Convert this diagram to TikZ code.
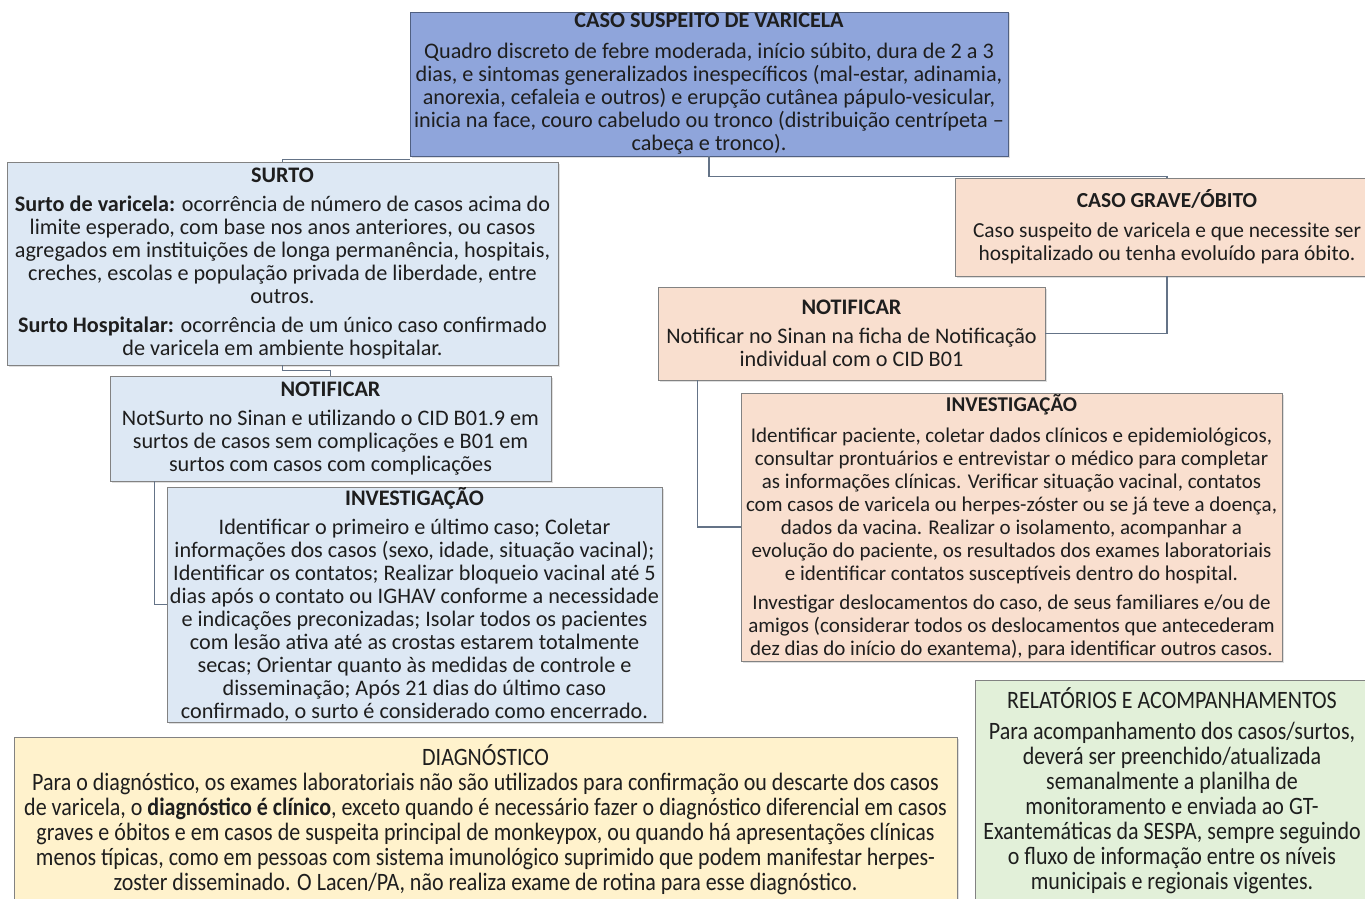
\documentclass[tikz,border=0pt]{standalone}
\usepackage{fontspec}
\setmainfont{Carlito}
\newfontfamily\condfont[FakeStretch=0.88]{Carlito}
\usetikzlibrary{shadows}
\definecolor{topfill}{RGB}{143,165,219}
\definecolor{topline}{RGB}{80,96,130}
\definecolor{bluefill}{RGB}{221,232,244}
\definecolor{peachfill}{RGB}{249,223,207}
\definecolor{yellowfill}{RGB}{255,242,204}
\definecolor{greenfill}{RGB}{226,240,217}
\definecolor{boxline}{RGB}{130,130,130}
\definecolor{connline}{RGB}{100,115,135}
\definecolor{txt}{RGB}{30,30,30}
\newcommand\bodyfont{\fontsize{22.2}{23}\selectfont}
\newcommand\smallbody{\fontsize{21}{23}\selectfont}
\newcommand\condbody{\condfont\fontsize{25}{25}\selectfont}
\tikzset{
  box/.style={draw=boxline, line width=0.9pt, align=center, inner sep=0pt,
    text=txt, font=\bodyfont,
    drop shadow={shadow xshift=1.5pt, shadow yshift=-1.5pt, opacity=0.25}},
  topbox/.style={box, fill=topfill, draw=topline},
  bluebox/.style={box, fill=bluefill},
  peachbox/.style={box, fill=peachfill},
  yellowbox/.style={box, fill=yellowfill, font=\condbody},
  greenbox/.style={box, fill=greenfill, font=\condbody},
  conn/.style={draw=connline, line width=1.3pt}
}
\begin{document}
\begin{tikzpicture}[x=1pt,y=-1pt]
\useasboundingbox (0,0) rectangle (1365,899);
\fill[white] (0,0) rectangle (1365,899);
\begin{scope}
\clip (0,0) rectangle (1365,899);

\node[topbox, minimum width=598, minimum height=144] (top) at (709,84)
  {\textbf{CASO SUSPEITO DE VARICELA}\\[8pt]
   Quadro discreto de febre moderada, início súbito, dura de 2 a 3\\
   dias, e sintomas generalizados inespecíficos (mal-estar, adinamia,\\
   anorexia, cefaleia e outros) e erupção cutânea pápulo-vesicular,\\
   inicia na face, couro cabeludo ou tronco (distribuição centrípeta –\\
   cabeça e tronco).};

\node[bluebox, minimum width=551, minimum height=203] (surto) at (282.5,263.5)
  {\textbf{SURTO}\\[6pt]
   \textbf{Surto de varicela:} ocorrência de número de casos acima do\\
   limite esperado, com base nos anos anteriores, ou casos\\
   agregados em instituições de longa permanência, hospitais,\\
   creches, escolas e população privada de liberdade, entre\\
   outros.\\[6pt]
   \textbf{Surto Hospitalar:} ocorrência de um único caso confirmado\\
   de varicela em ambiente hospitalar.};

\node[bluebox, minimum width=441, minimum height=105] (notl) at (330.5,428.5)
  {\textbf{NOTIFICAR}\\[6pt]
   NotSurto no Sinan e utilizando o CID B01.9 em\\
   surtos de casos sem complicações e B01 em\\
   surtos com casos com complicações};

\node[bluebox, minimum width=495, minimum height=235] (invl) at (414.5,604.5)
  {\textbf{INVESTIGAÇÃO}\\[6pt]
   Identificar o primeiro e último caso; Coletar\\
   informações dos casos (sexo, idade, situação vacinal);\\
   Identificar os contatos; Realizar bloqueio vacinal até 5\\
   dias após o contato ou IGHAV conforme a necessidade\\
   e indicações preconizadas; Isolar todos os pacientes\\
   com lesão ativa até as crostas estarem totalmente\\
   secas; Orientar quanto às medidas de controle e\\
   disseminação; Após 21 dias do último caso\\
   confirmado, o surto é considerado como encerrado.};

\node[peachbox, minimum width=424, minimum height=98, font=\fontsize{21.4}{23}\selectfont] (grave) at (1167,227)
  {\textbf{CASO GRAVE/ÓBITO}\\[7pt]
   Caso suspeito de varicela e que necessite ser\\
   hospitalizado ou tenha evoluído para óbito.};

\node[peachbox, minimum width=387, minimum height=93] (notr) at (851.5,333.5)
  {\textbf{NOTIFICAR}\\[6pt]
   Notificar no Sinan na ficha de Notificação\\
   individual com o CID B01};

\node[peachbox, minimum width=541, minimum height=268, font=\smallbody] (invr) at (1011.5,527)
  {\textbf{INVESTIGAÇÃO}\\[8pt]
   Identificar paciente, coletar dados clínicos e epidemiológicos,\\
   consultar prontuários e entrevistar o médico para completar\\
   as informações clínicas. Verificar situação vacinal, contatos\\
   com casos de varicela ou herpes-zóster ou se já teve a doença,\\
   dados da vacina. Realizar o isolamento, acompanhar a\\
   evolução do paciente, os resultados dos exames laboratoriais\\
   e identificar contatos susceptíveis dentro do hospital.\\[6pt]
   Investigar deslocamentos do caso, de seus familiares e/ou de\\
   amigos (considerar todos os deslocamentos que antecederam\\
   dez dias do início do exantema), para identificar outros casos.};

\node[yellowbox, minimum width=943, minimum height=165] (diag) at (485.5,819.5)
  {DIAGNÓSTICO\\
   Para o diagnóstico, os exames laboratoriais não são utilizados para confirmação ou descarte dos casos\\
   de varicela, o \textbf{diagnóstico é clínico}, exceto quando é necessário fazer o diagnóstico diferencial em casos\\
   graves e óbitos e em casos de suspeita principal de monkeypox, ou quando há apresentações clínicas\\
   menos típicas, como em pessoas com sistema imunológico suprimido que podem manifestar herpes-\\
   zoster disseminado. O Lacen/PA, não realiza exame de rotina para esse diagnóstico.};

\node[greenbox, minimum width=394, minimum height=222] (rel) at (1172,791)
  {RELATÓRIOS E ACOMPANHAMENTOS\\[6pt]
   Para acompanhamento dos casos/surtos,\\
   deverá ser preenchido/atualizada\\
   semanalmente a planilha de\\
   monitoramento e enviada ao GT-\\
   Exantemáticas da SESPA, sempre seguindo\\
   o fluxo de informação entre os níveis\\
   municipais e regionais vigentes.};

% connectors
\draw[conn] (surto.north) |- ([yshift=-3pt]top.south west);
\draw[conn] (top.south) -- ++(0,20) -| (grave.north);
\draw[conn] (surto.south) -- ++(0,5) -| (notl.north);
\draw[conn] ([xshift=45pt]notl.south west) |- (invl.west);
\draw[conn] (grave.south) |- (notr.east);
\draw[conn] ([xshift=40pt]notr.south west) |- (invr.west);
\end{scope}
\end{tikzpicture}
\end{document}
